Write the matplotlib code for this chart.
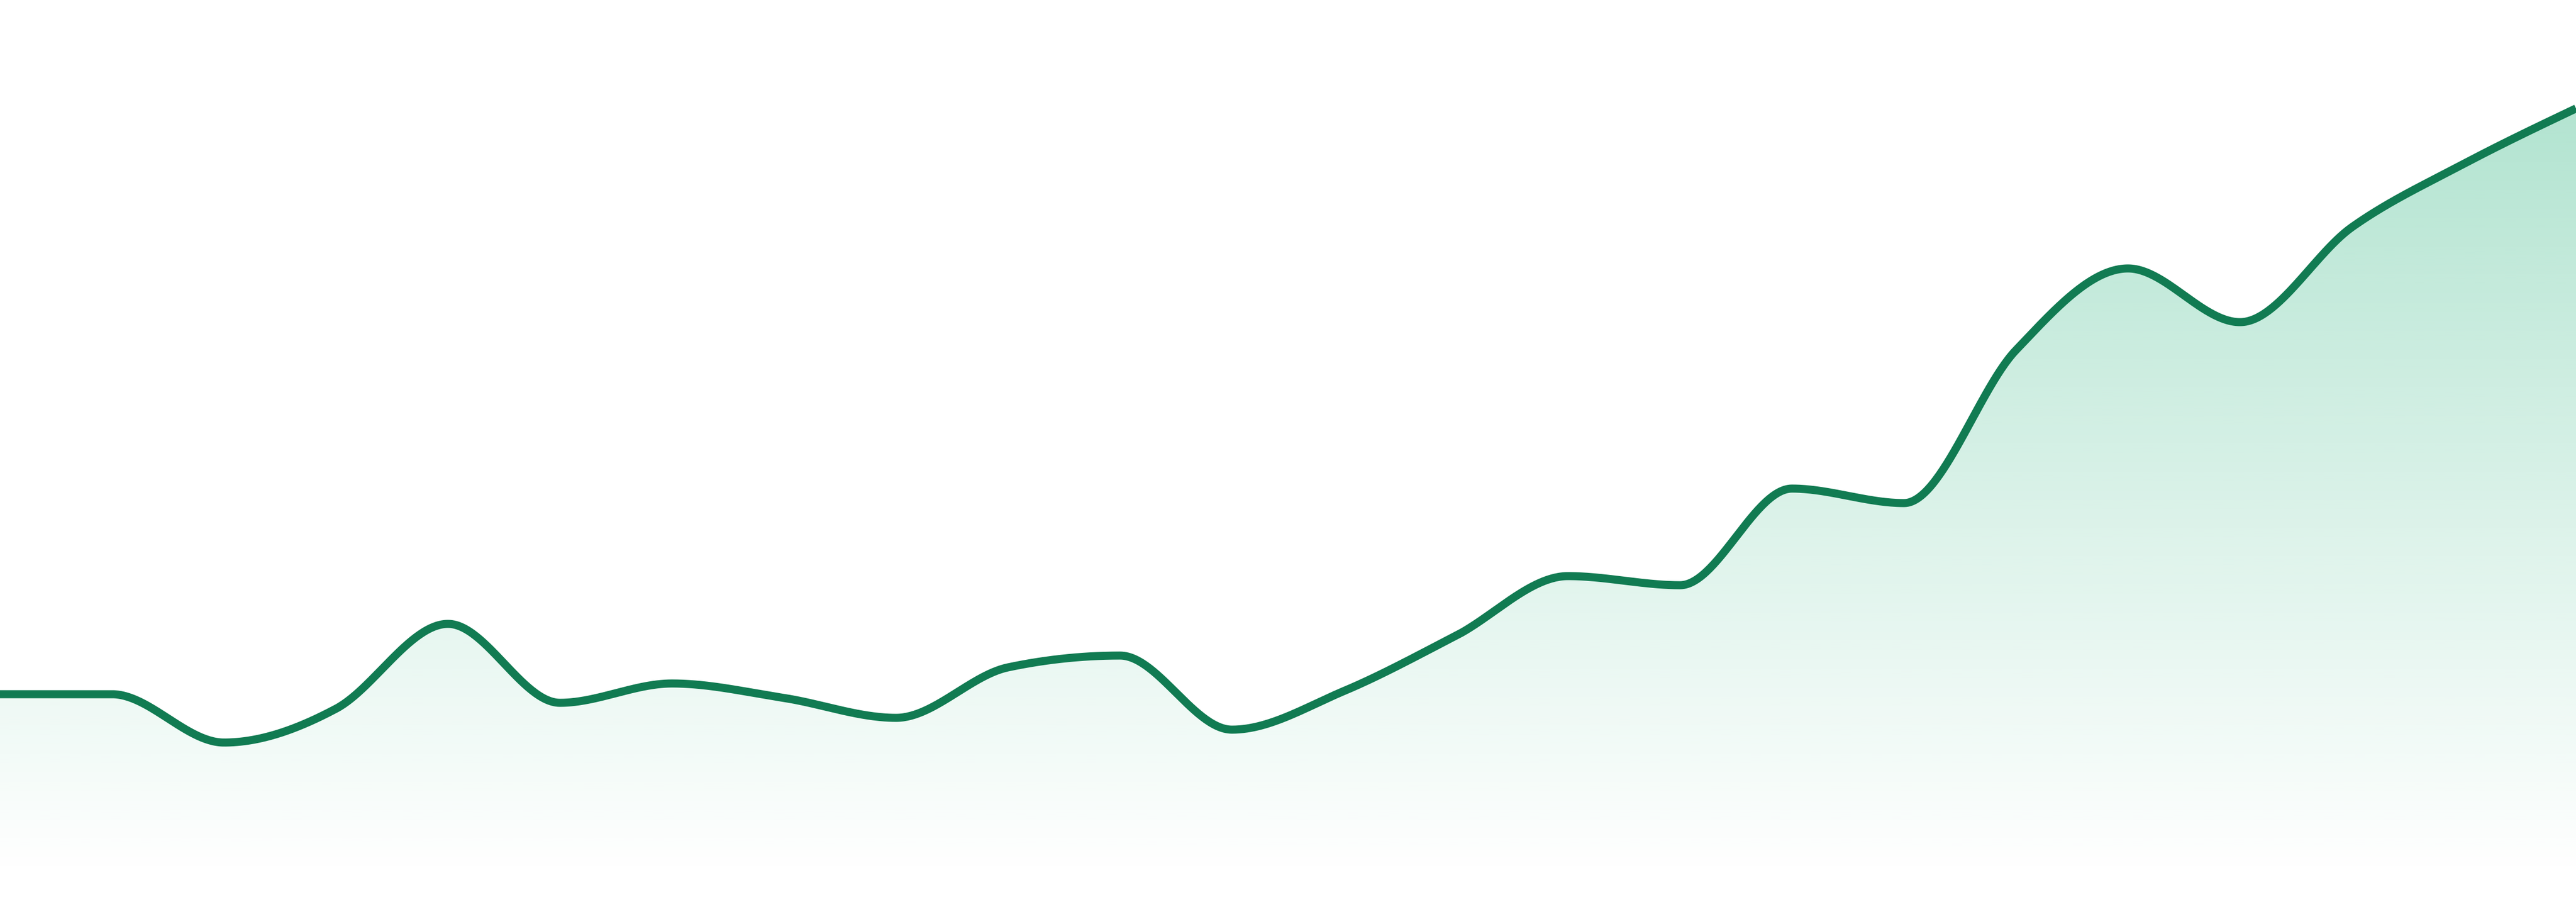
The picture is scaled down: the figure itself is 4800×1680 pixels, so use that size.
import numpy as np
import matplotlib
matplotlib.use("Agg")
import matplotlib.pyplot as plt
from matplotlib.patches import Polygon

# 数据：24个点，等间距
values = [33.9, 33.9, 24.9, 31.2, 47.0, 32.3, 35.9, 33.2, 29.5, 38.9, 41.1, 27.3,
          34.5, 44.8, 55.9, 54.2, 72.2, 69.5, 98.0, 113.2, 103.2, 120.9, 132.7, 143.0]
x_idx = list(range(len(values)))

line_color = "#117b52"
fill_rgb = (16 / 255, 170 / 255, 110 / 255)


# 单调三次插值（和 d3 curveMonotoneX 一样的思路）
def monotone_curve(x, y, n=60):
    x = np.asarray(x, float)
    y = np.asarray(y, float)
    h = np.diff(x)
    s = np.diff(y) / h
    t = np.zeros_like(y)
    for i in range(1, len(y) - 1):
        p = (s[i - 1] * h[i] + s[i] * h[i - 1]) / (h[i - 1] + h[i])
        t[i] = (np.sign(s[i - 1]) + np.sign(s[i])) * min(abs(s[i - 1]), abs(s[i]), 0.5 * abs(p))
    t[0] = (3 * s[0] - t[1]) / 2
    t[-1] = (3 * s[-1] - t[-2]) / 2
    xs, ys = [], []
    for i in range(len(x) - 1):
        u = np.linspace(0, 1, n, endpoint=(i == len(x) - 2))
        h00 = 2 * u**3 - 3 * u**2 + 1
        h10 = u**3 - 2 * u**2 + u
        h01 = -2 * u**3 + 3 * u**2
        h11 = u**3 - u**2
        xs.append(x[i] + u * h[i])
        ys.append(h00 * y[i] + h10 * h[i] * t[i] + h01 * y[i + 1] + h11 * h[i] * t[i + 1])
    return np.concatenate(xs), np.concatenate(ys)


cx, cy = monotone_curve(x_idx, values)

fig = plt.figure(figsize=(16, 5.6), dpi=300)
ax = fig.add_axes([0, 0, 1, 1])
ax.set_xlim(0, len(values) - 1)
ax.set_ylim(-4.8, 163.2)
ax.axis("off")

# 渐变填充：顶部 alpha 0.32，到底部 0
top = max(values)
grad = np.linspace(0, 1, 512).reshape(-1, 1)
img = np.zeros((512, 1, 4))
img[..., 0], img[..., 1], img[..., 2] = fill_rgb
img[..., 3] = 0.32 * grad
poly = Polygon(np.column_stack([np.r_[cx, cx[-1], cx[0]], np.r_[cy, 0, 0]]),
               closed=True, facecolor="none", edgecolor="none")
ax.add_patch(poly)
im = ax.imshow(img, extent=[0, len(values) - 1, 0, top], origin="lower",
               aspect="auto", interpolation="bilinear", zorder=1)
im.set_clip_path(poly)

ax.plot(cx, cy, color=line_color, lw=3.6, solid_capstyle="butt", zorder=2)

fig.savefig("out.png", dpi=300, facecolor="white")
